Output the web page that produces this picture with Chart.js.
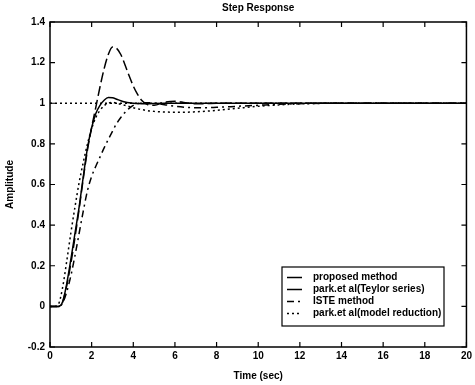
<!DOCTYPE html>
<html>
<head>
<meta charset="utf-8">
<script src="https://cdn.jsdelivr.net/npm/chart.js@4.4.1/dist/chart.umd.min.js"></script>
<style>
  html, body { margin: 0; padding: 0; background: #fff; }
  #wrap { width: 475px; height: 385px; }
</style>
</head>
<body>
<div id="wrap"><canvas id="c" width="475" height="385"></canvas></div>
<script>
// ---- data ----
const chartTitle = "Step Response";
const xTitle = "Time (sec)";
const yTitle = "Amplitude";
const xTicks = [0, 2, 4, 6, 8, 10, 12, 14, 16, 18, 20];
const yTicks = [-0.2, 0, 0.2, 0.4, 0.6, 0.8, 1, 1.2, 1.4];

const time = [0, 0.2, 0.4, 0.6, 0.8, 1.0, 1.2, 1.4, 1.6, 1.8, 2.0, 2.2, 2.4, 2.6, 2.8, 3.0, 3.2, 3.4, 3.6, 3.8, 4.0, 4.2, 4.4, 4.6, 4.8, 5.0, 5.5, 6, 6.5, 7, 7.5, 8, 9, 10, 11, 12, 14, 16, 18, 20];

const proposed = [0, 0, 0, 0.02, 0.11, 0.23, 0.36, 0.49, 0.64, 0.78, 0.88, 0.95, 0.99, 1.015, 1.028, 1.027, 1.02, 1.012, 1.006, 1.002, 1.0, 0.999, 0.998, 0.998, 0.998, 0.999, 1.0, 1.0, 1.0, 1.0, 1.0, 1.0, 1.0, 1.0, 1.0, 1.0, 1.0, 1.0, 1.0, 1.0];

const parkTaylor = [0, 0, 0, 0.02, 0.1, 0.21, 0.34, 0.48, 0.63, 0.77, 0.88, 0.98, 1.08, 1.17, 1.24, 1.277, 1.27, 1.24, 1.19, 1.135, 1.085, 1.045, 1.015, 0.998, 0.99, 0.99, 1.005, 1.01, 1.003, 0.997, 0.998, 1.0, 1.0, 1.0, 1.0, 1.0, 1.0, 1.0, 1.0, 1.0];

const iste = [0, 0, 0, 0.015, 0.07, 0.15, 0.25, 0.36, 0.47, 0.57, 0.64, 0.69, 0.735, 0.78, 0.822, 0.862, 0.9, 0.93, 0.955, 0.975, 0.99, 0.998, 1.002, 1.003, 1.002, 1.0, 0.993, 0.985, 0.98, 0.978, 0.978, 0.98, 0.985, 0.99, 0.995, 0.998, 1.0, 1.0, 1.0, 1.0];

const parkReduction = [0, 0, 0.01, 0.09, 0.22, 0.36, 0.49, 0.61, 0.71, 0.8, 0.875, 0.93, 0.965, 0.988, 1.0, 1.004, 1.0, 0.995, 0.99, 0.984, 0.978, 0.973, 0.969, 0.965, 0.962, 0.96, 0.957, 0.956, 0.956, 0.958, 0.961, 0.965, 0.975, 0.985, 0.992, 0.997, 1.0, 1.0, 1.0, 1.0];

const refTime = [0, 20];
const refValue = [1, 1];

const seriesLabels = ["proposed method", "park.et al(Teylor series)", "ISTE method", "park.et al(model reduction)"];

// ---- build chart ----
const pts = (xs, ys) => xs.map((x, i) => ({ x: x, y: ys[i] }));
const FONT = "'Liberation Sans', Arial, sans-serif";
Chart.defaults.font.family = FONT;
Chart.defaults.font.size = 10;
Chart.defaults.font.weight = 'bold';
Chart.defaults.color = '#000';

const legendDash = [[], [], [7, 4, 2, 4], [2, 3]];

const framePlugin = {
  id: 'frame',
  afterDraw(chart) {
    const ctx = chart.ctx;
    const a = chart.chartArea;
    const xs = chart.scales.x, ys = chart.scales.y;
    ctx.save();
    ctx.strokeStyle = '#000';
    ctx.lineWidth = 1.5;
    ctx.setLineDash([]);
    ctx.strokeRect(a.left, a.top, a.right - a.left, a.bottom - a.top);
    ctx.lineWidth = 1.2;
    ctx.beginPath();
    xTicks.forEach(v => {
      const px = xs.getPixelForValue(v);
      ctx.moveTo(px, a.bottom); ctx.lineTo(px, a.bottom - 5);
      ctx.moveTo(px, a.top); ctx.lineTo(px, a.top + 5);
    });
    yTicks.forEach(v => {
      const py = ys.getPixelForValue(v);
      ctx.moveTo(a.left, py); ctx.lineTo(a.left + 5, py);
      ctx.moveTo(a.right, py); ctx.lineTo(a.right - 5, py);
    });
    ctx.stroke();

    // title
    ctx.fillStyle = '#000';
    ctx.font = "bold 10px " + FONT;
    ctx.textAlign = 'center';
    ctx.textBaseline = 'middle';
    ctx.fillText(chartTitle, (a.left + a.right) / 2, 8);

    // legend box
    const bx = 282, by = 267, bw = 162, bh = 59;
    ctx.fillStyle = '#fff';
    ctx.fillRect(bx, by, bw, bh);
    ctx.lineWidth = 1.2;
    ctx.strokeRect(bx, by, bw, bh);
    const rows = [277.5, 289.5, 301.5, 313.5];
    chart.data.datasets.slice(0, 4).forEach((ds, i) => {
      ctx.beginPath();
      ctx.setLineDash(legendDash[i]);
      ctx.lineWidth = 1.5;
      ctx.moveTo(287, rows[i]);
      ctx.lineTo(302, rows[i]);
      ctx.stroke();
      ctx.setLineDash([]);
      ctx.fillStyle = '#000';
      ctx.textAlign = 'left';
      ctx.fillText(ds.label, 313, rows[i]);
    });
    ctx.restore();
  }
};

const common = { borderColor: '#000', borderWidth: 1.5, pointRadius: 0, fill: false, cubicInterpolationMode: 'monotone' };

new Chart(document.getElementById('c'), {
  type: 'line',
  data: {
    datasets: [
      Object.assign({ label: seriesLabels[0], data: pts(time, proposed), borderDash: [] }, common),
      Object.assign({ label: seriesLabels[1], data: pts(time, parkTaylor), borderDash: [10, 4] }, common),
      Object.assign({ label: seriesLabels[2], data: pts(time, iste), borderDash: [7, 4, 2, 4] }, common),
      Object.assign({ label: seriesLabels[3], data: pts(time, parkReduction), borderDash: [2, 3] }, common),
      Object.assign({ label: 'ref', data: pts(refTime, refValue), borderDash: [2, 3] }, common, { borderWidth: 1.3 })
    ]
  },
  options: {
    responsive: false,
    animation: false,
    layout: { padding: { left: 0, right: 7, top: 22, bottom: 0 } },
    plugins: { legend: { display: false }, title: { display: false }, tooltip: { enabled: false } },
    scales: {
      x: {
        type: 'linear', min: 0, max: 20,
        afterBuildTicks: s => { s.ticks = xTicks.map(v => ({ value: v })); },
        afterFit: s => { s.height = 38; },
        grid: { display: false, drawTicks: false },
        border: { display: false },
        ticks: { padding: 3, maxRotation: 0, autoSkip: false },
        title: { display: true, text: xTitle, padding: { top: 0, bottom: 3 } }
      },
      y: {
        type: 'linear', min: -0.2, max: 1.4,
        afterBuildTicks: s => { s.ticks = yTicks.map(v => ({ value: v })); },
        afterFit: s => { s.width = 50; },
        grid: { display: false, drawTicks: false },
        border: { display: false },
        ticks: { padding: 5, autoSkip: false, callback: v => String(Math.round(v * 10) / 10) },
        title: { display: true, text: yTitle, padding: { top: 4, bottom: 0 } }
      }
    }
  },
  plugins: [framePlugin]
});
</script>
</body>
</html>
